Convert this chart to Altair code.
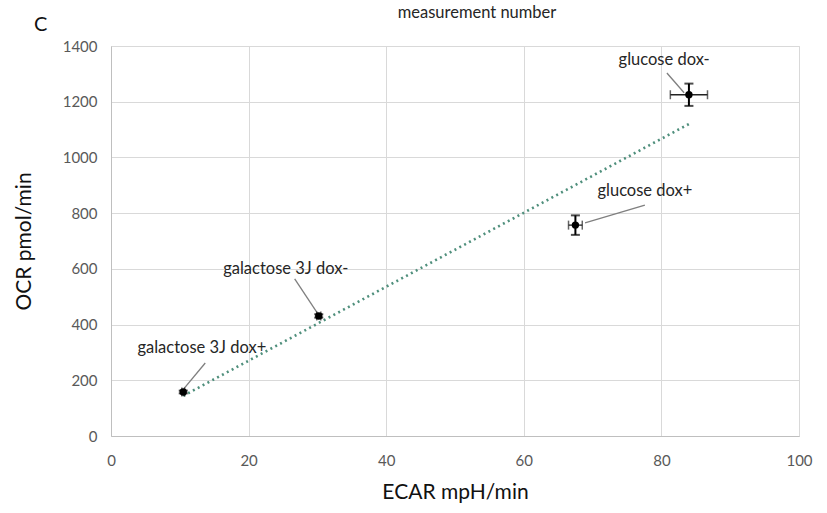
import altair as alt
import pandas as pd

# Measured conditions: ECAR (x) vs OCR (y) with SD
conditions = ["glucose dox-", "glucose dox+", "galactose 3J dox-", "galactose 3J dox+"]
ecar = [84.0, 67.5, 30.2, 10.5]
ocr = [1225, 757, 431, 158]
ecar_sd = [2.7, 1.0, 0.3, 0.2]
ocr_sd = [40, 35, 6, 5]

# Annotation anchors (data units) for the callout text and its leader line start
label_x = [80.4, 77.6, 25.4, 13.2]
label_y = [1350, 879, 599, 316]
leader_x = [80.8, 77.6, 26.7, 13.7]
leader_y = [1303, 829, 564, 262]
leader_end_x = [83.3, 68.9, 30.0, 10.6]
leader_end_y = [1232, 765, 441, 170]

df = pd.DataFrame({
    "cond": conditions, "ecar": ecar, "ocr": ocr,
    "ecar_lo": [a - b for a, b in zip(ecar, ecar_sd)],
    "ecar_hi": [a + b for a, b in zip(ecar, ecar_sd)],
    "ocr_lo": [a - b for a, b in zip(ocr, ocr_sd)],
    "ocr_hi": [a + b for a, b in zip(ocr, ocr_sd)],
})
ann = pd.DataFrame({
    "cond": conditions, "lx": label_x, "ly": label_y,
    "sx": leader_x, "sy": leader_y, "ex": leader_end_x, "ey": leader_end_y,
})

FONT = "Lato"
XT = "ECAR mpH/min"
YT = "OCR pmol/min"
xs = alt.Scale(domain=[0, 100], nice=False)
ys = alt.Scale(domain=[0, 1400], nice=False)

xaxis = alt.Axis(values=[0, 20, 40, 60, 80, 100], format="d", labelFlush=False,
                 labelColor="#595959", labelFontSize=15, labelPadding=17,
                 titleFontSize=21, titleFontWeight="normal", titleColor="#111111",
                 titlePadding=13, ticks=False, domainColor="#bfbfbf",
                 gridColor="#d9d9d9", labelFont=FONT, titleFont=FONT)
yaxis = alt.Axis(values=list(range(0, 1401, 200)), format="d",
                 labelColor="#595959", labelFontSize=15, labelPadding=14,
                 titleFontSize=21, titleFontWeight="normal", titleColor="#111111",
                 titlePadding=28, ticks=False, domainColor="#bfbfbf",
                 gridColor="#d9d9d9", labelFont=FONT, titleFont=FONT)


def X(field):
    return alt.X(field, type="quantitative", scale=xs, axis=xaxis, title=XT)


def Y(field):
    return alt.Y(field, type="quantitative", scale=ys, axis=yaxis, title=YT)


base = alt.Chart(df)

points = base.mark_circle(size=55, color="black", opacity=1).encode(
    x=X("ecar"), y=Y("ocr"),
)

trend = base.transform_regression("ecar", "ocr").mark_line(
    color="#4f8f7c", strokeDash=[2, 3.5], strokeWidth=2.6
).encode(x=X("ecar"), y=Y("ocr"))

err_y = base.mark_errorbar(ticks=alt.TickConfig(size=9, thickness=2), thickness=2,
                           color="black").encode(
    x=X("ecar"), y=Y("ocr_lo"), y2="ocr_hi:Q",
)
err_x = base.mark_errorbar(ticks=alt.TickConfig(size=9, thickness=1.5), thickness=1.3,
                           color="#222222").encode(
    y=Y("ocr"), x=X("ecar_lo"), x2="ecar_hi:Q",
)

a = alt.Chart(ann)
leaders = a.mark_rule(color="#7f7f7f", strokeWidth=1.3).encode(
    x=X("sx"), y=Y("sy"), x2="ex:Q", y2="ey:Q",
)
labels = a.mark_text(font=FONT, fontSize=16.5, color="#262626").encode(
    x=X("lx"), y=Y("ly"), text="cond:N",
)

headers = pd.DataFrame({"t": ["C", "measurement number"]})
panel = alt.Chart(headers.iloc[[0]]).mark_text(
    font=FONT, fontSize=20, color="#111111", align="left"
).encode(x=alt.value(-77), y=alt.value(-21), text="t:N")
top_title = alt.Chart(headers.iloc[[1]]).mark_text(
    font=FONT, fontSize=16.5, color="#262626", align="center"
).encode(x=alt.value(366), y=alt.value(-33), text="t:N")

chart = alt.layer(trend, leaders, err_y, err_x, points, labels, panel, top_title).properties(
    width=688, height=390,
    autosize=alt.AutoSizeParams(type="none"),
    padding={"left": 111, "top": 46, "right": 28, "bottom": 77},
).configure_view(stroke="#d9d9d9").configure(background="white")

chart.save("out.html", embed_options={"renderer": "svg", "actions": False})
